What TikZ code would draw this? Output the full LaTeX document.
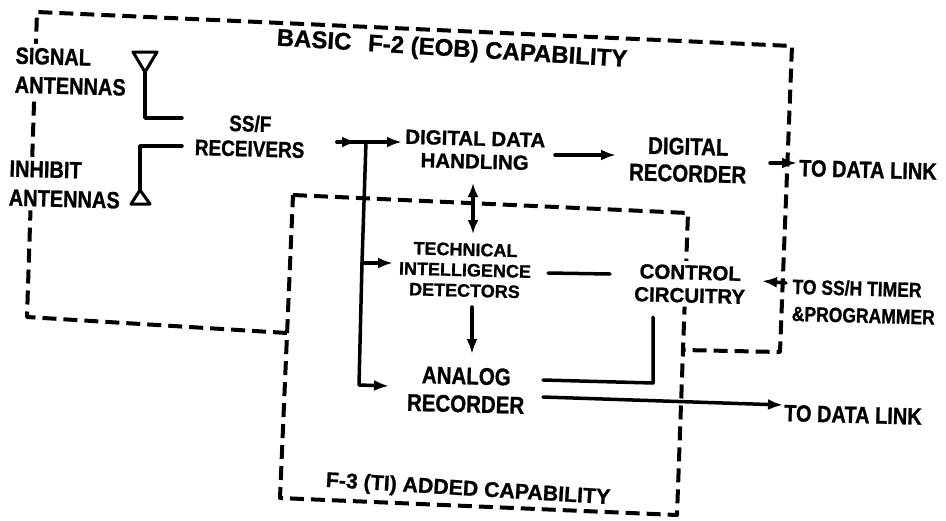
\documentclass[tikz,border=0pt]{standalone}
\usepackage{fontspec}
\setmainfont{Liberation Sans}[BoldFeatures={FakeStretch=0.85,FakeBold=1}]
\newfontfamily\titlefont{Liberation Sans}[BoldFeatures={FakeBold=1}]
\usetikzlibrary{arrows.meta}
\begin{document}
\begin{tikzpicture}[x=1pt,y=-1pt,
  lbl/.style={font=\bfseries, align=center, inner sep=1pt, rotate=-1.5},
  mask/.style={lbl, fill=white, inner sep=4pt},
  conn/.style={line width=3.5pt, line cap=round, line join=round},
  arr/.style={conn, -{Latex[length=15pt,width=11pt]}},
  dbl/.style={conn, {Latex[length=14pt,width=11pt]}-{Latex[length=14pt,width=11pt]}},
  bnd/.style={line width=4pt, dash pattern=on 14pt off 7pt, line join=round}]
\useasboundingbox (0,0) rectangle (946,520);

% ---- capability boundaries ----
\draw[bnd] (293,195) -- (688,213) -- (677,515) -- (280,498) -- cycle;
\draw[bnd] (287,333) -- (27,317) -- (37,12) -- (792,46) -- (780,352) -- (683,350);

% ---- named connector ends ----
\coordinate (sa) at (145,72);
\coordinate (ia) at (140,190);
\coordinate (rin1) at (182,118);
\coordinate (rin2) at (182,146);
\coordinate (rout) at (337,142);
\coordinate (rmid) at (357,142);
\coordinate (j1) at (366,142);
\coordinate (j2) at (362,263);
\coordinate (j3) at (359,385);
\coordinate (ddhin) at (402,142);
\coordinate (ddhout) at (555,155);
\coordinate (drecin) at (616,155);
\coordinate (drecout) at (770,163);
\coordinate (tdlin) at (797,163);
\coordinate (ddhbot) at (473,183);
\coordinate (tidtop) at (473,234);
\coordinate (tidin) at (393,263);
\coordinate (tidout) at (548,273);
\coordinate (ctrlin) at (610,274);
\coordinate (tidbot) at (472,307);
\coordinate (anatop) at (472,354);
\coordinate (anain) at (389,386);
\coordinate (anaout1) at (543,380);
\coordinate (ctrlbot) at (653,317);
\coordinate (anaout2) at (543,397);
\coordinate (tdl2in) at (783,405);
\coordinate (sshout) at (786,283);
\coordinate (ctrlright) at (762,281);

% ---- antennas ----
\draw[line width=3pt, line join=round] (133,52) -- (157,52) -- (sa) -- cycle;
\draw[line width=3pt, line join=round] (131,204) -- (150,204) -- (ia) -- cycle;
\draw[conn] (sa) |- (rin1);
\draw[conn] (ia) |- (rin2);

% ---- connectors ----
\draw[conn] (rout) -- (j1);
\draw[arr] (rout) -- (rmid);
\draw[arr] (j1) -- (ddhin);
\draw[conn] (j1) -- (j2);
\draw[arr] (j2) -- (j3) -- (anain);
\draw[arr] (j2) -- (tidin);
\draw[arr] (ddhout) -- (drecin);
\draw[arr] (drecout) -- (tdlin);
\draw[dbl] (ddhbot) -- (tidtop);
\draw[conn] (tidout) -- (ctrlin);
\draw[arr] (tidbot) -- (anatop);
\draw[conn] (anaout1) -- (653,383) -- (ctrlbot);
\draw[arr] (anaout2) -- (tdl2in);
\draw[arr] (sshout) -- (ctrlright);

% ---- labels ----
\node[mask, align=left, anchor=west, font=\bfseries\fontsize{23.5}{29}\selectfont] (sig) at (11,70) {SIGNAL\\ANTENNAS};
\node[mask, align=left, anchor=west, font=\bfseries\fontsize{23.5}{29}\selectfont] (inh) at (5,183) {INHIBIT\\ANTENNAS};
\node[lbl, font=\bfseries\fontsize{22.3}{25}\selectfont] (rec) at (250,136) {SS/F\\RECEIVERS};
\node[lbl, font=\titlefont\bfseries\fontsize{20.5}{23}\selectfont] (ddh) at (475,150) {DIGITAL DATA\\HANDLING};
\node[lbl, font=\bfseries\fontsize{24.1}{27}\selectfont] (drec) at (688,160) {DIGITAL\\RECORDER};
\node[lbl, anchor=west, font=\bfseries\fontsize{23.5}{24}\selectfont] (tdl1) at (798,168) {TO DATA LINK};
\node[lbl, font=\titlefont\bfseries\fontsize{18}{20.5}\selectfont] (tid) at (465,270) {TECHNICAL\\INTELLIGENCE\\DETECTORS};
\node[mask, font=\titlefont\bfseries\fontsize{20.5}{23}\selectfont] (ctrl) at (690,284) {CONTROL\\CIRCUITRY};
\node[lbl, align=left, anchor=west, font=\bfseries\fontsize{20.6}{27}\selectfont] (ssh) at (791,300) {TO SS/H TIMER\\\&PROGRAMMER};
\node[lbl, font=\bfseries\fontsize{24.1}{28}\selectfont] (ana) at (466,390) {ANALOG\\RECORDER};
\node[lbl, anchor=west, font=\bfseries\fontsize{23.5}{24}\selectfont] (tdl2) at (783,413) {TO DATA LINK};
\node[lbl, rotate=-2, font=\titlefont\bfseries\fontsize{24}{28}\selectfont] (basic) at (452,50) {BASIC\hspace{0.7em}F-2 (EOB) CAPABILITY};
\node[lbl, rotate=-2, font=\titlefont\bfseries\fontsize{21.3}{28}\selectfont] (f3) at (468,490) {F-3 (TI) ADDED CAPABILITY};
\end{tikzpicture}
\end{document}
